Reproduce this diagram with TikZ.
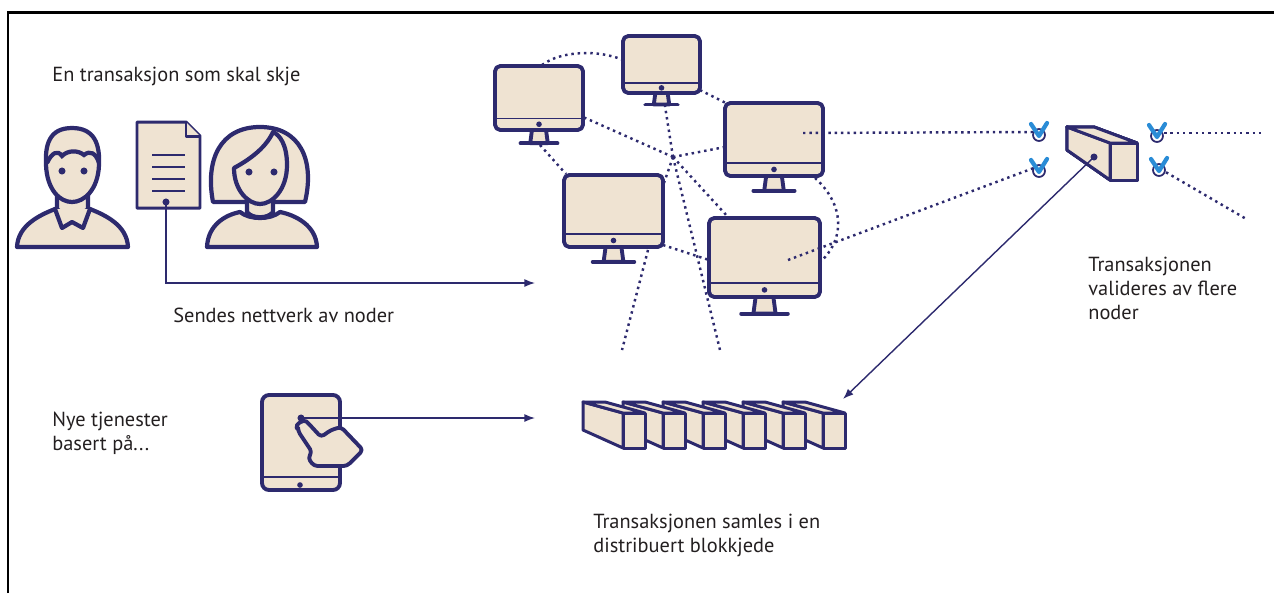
\documentclass[tikz,border=0pt]{standalone}
\usepackage{fontspec}
\setmainfont{PT Sans}
\usetikzlibrary{arrows.meta}
\definecolor{ink}{RGB}{45,42,110}
\definecolor{sand}{RGB}{239,227,210}
\definecolor{tickblue}{RGB}{42,140,214}
\definecolor{txt}{RGB}{35,31,32}
\tikzset{
  icon/.style={draw=ink,fill=sand,line width=2.2pt,line join=round},
  person/.style={icon,line width=2.4pt},
  net/.style={draw=ink,line width=1.4pt,dash pattern=on 1.4pt off 2.2pt},
  link/.style={draw=ink,line width=0.8pt,-{Latex[length=6pt,width=4.5pt]}},
  lbl/.style={anchor=north west,text=txt,font=\fontsize{11.6}{13.6}\selectfont,align=left,inner sep=0pt},
}
% screen with stand: name, left, top, right, bottom
\newcommand{\monitor}[5]{%
  \pgfmathsetmacro\mw{#4-#2}\pgfmathsetmacro\mh{#5-#3}%
  \pgfmathsetmacro\mx{(#2+#4)/2}\pgfmathsetmacro\chin{#5-0.18*\mh}%
  \pgfmathsetmacro\foot{#5+0.15*\mw}%
  \draw[icon] (\mx-0.08*\mw,#5) -- (\mx-0.1*\mw,\foot) -- (\mx+0.1*\mw,\foot) -- (\mx+0.08*\mw,#5) -- cycle;
  \draw[ink,line width=2.2pt,line cap=round] (\mx-0.21*\mw,\foot) -- (\mx+0.21*\mw,\foot);
  \draw[icon,rounded corners=3pt] (#2,#3) rectangle (#4,#5);
  \draw[ink,line width=1pt] (#2,\chin) -- (#4,\chin);
  \fill[ink] (\mx,{(\chin+#5)/2}) circle (1.6pt);
  \coordinate (#1) at (\mx,{(#3+\chin)/2});
}
% block: end face corner x,y, width, height, depth dx,dy, back height
\newcommand{\blok}[7]{%
  \draw[icon,line width=1.7pt] (#1-#5,#2-#6) -- (#1,#2) -- (#1,#2+#4) -- (#1-#5,#2-#6+#7) -- cycle;
  \draw[icon,line width=1.7pt] (#1-#5,#2-#6) -- (#1-#5+#3,#2-#6) -- (#1+#3,#2) -- (#1,#2) -- cycle;
  \draw[icon,line width=1.7pt] (#1,#2) rectangle (#1+#3,#2+#4);
}
% check mark over a small ring, at a named coordinate
\newcommand{\valid}[1]{%
  \draw[ink,line width=1pt] ([shift={(0,3)}]#1) circle (3.4pt);
  \draw[tickblue,line width=2.4pt,line cap=round,line join=round]
    ([shift={(-8,-8)}]#1) -- ([shift={(0,4)}]#1) -- ([shift={(8,-9)}]#1);
}
\begin{document}
\begin{tikzpicture}[x=0.02cm,y=-0.02cm]
\useasboundingbox (0,0) rectangle (1274,593);
\draw[line width=1.7pt] (8,593) -- (8,12) -- (1274,12);

% sender
\draw[person] (17,247) .. controls (18,225) and (40,215) .. (55,209) -- (90,209) .. controls (105,215) and (127,225) .. (128,247) -- cycle;
\draw[person] (57,188) -- (57,209) -- (72,222) -- (88,209) -- (88,188);
\draw[person] (55,209) -- (62,228) -- (72,222) -- (83,228) -- (90,209);
\draw[person] (72,128) .. controls (49,128) and (45,145) .. (46,165) .. controls (47,190) and (60,202) .. (72,202) .. controls (84,202) and (98,190) .. (99,165) .. controls (100,145) and (95,128) .. (72,128) -- cycle;
\draw[ink,line width=2.4pt] (47,163) .. controls (52,152) and (58,150) .. (62,156) .. controls (68,150) and (78,150) .. (84,155) .. controls (90,150) and (96,153) .. (99,163);
\fill[ink] (62,171) circle (2pt) (84,171) circle (2pt);

% document
\draw[icon,line width=1.7pt] (137,122) -- (186,122) -- (200,136) -- (200,208) -- (137,208) -- cycle;
\draw[icon,line width=1.7pt] (186,122) -- (186,136) -- (200,136);
\foreach \y in {155,167,179,191}
  \draw[ink,line width=1.1pt] (152,\y) -- (185,\y);
\coordinate (docpin) at (166,202);
\fill[ink] (docpin) circle (2pt);

% receiver
\draw[person] (207,247) .. controls (208,225) and (225,215) .. (240,212) .. controls (250,220) and (270,220) .. (280,212) .. controls (295,215) and (316,225) .. (317,247) -- cycle;
\draw[person] (213,202) .. controls (205,160) and (220,127) .. (260,127) .. controls (300,127) and (315,160) .. (305,202) -- cycle;
\draw[person] (247,195) -- (247,212) .. controls (252,219) and (268,219) .. (273,212) -- (273,195);
\draw[person] (234,168) .. controls (234,190) and (248,204) .. (260,204) .. controls (272,204) and (287,190) .. (287,165) .. controls (287,145) and (280,135) .. (273,132) .. controls (265,150) and (245,162) .. (234,168) -- cycle;
\fill[ink] (249,172) circle (2pt) (274,172) circle (2pt);

% peer network
\monitor{m1}{495}{66}{583}{130}
\monitor{m2}{623}{36}{700}{93}
\monitor{m3}{725}{103}{823}{176}
\monitor{m4}{564}{175}{663}{247}
\monitor{m5}{709}{218}{820}{297}
\coordinate (hub) at (673,157);
\coordinate (m1top) at (542,65);  \coordinate (m2left) at (623,60);
\coordinate (m2br) at (700,90);   \coordinate (m3tl) at (726,103);
\coordinate (m1right) at (583,117); \coordinate (m3left) at (725,147);
\coordinate (m2foot) at (665,106); \coordinate (m4tr) at (664,183);
\coordinate (m5top) at (728,217);  \coordinate (downa) at (720,350);
\coordinate (m1foot) at (540,145); \coordinate (m4tl) at (566,174);
\coordinate (m4right) at (663,245); \coordinate (m5left) at (709,260);
\coordinate (m4foot) at (648,250); \coordinate (downb) at (622,350);
\coordinate (m3foot) at (815,178); \coordinate (m5right) at (820,262);
\coordinate (m3in) at (803,133);   \coordinate (m5in) at (788,260);
\coordinate (outa) at (1262,133);  \coordinate (outb) at (1248,220);
\draw[net] (m1top) .. controls (562,50) and (600,50) .. (m2left);
\draw[net] (m2br) -- (m3tl);
\foreach \p in {m1right,m3left,m2foot,m4tr,m5top,downa}
  \draw[net] (hub) -- (\p);
\draw[net] (m1foot) -- (m4tl);
\draw[net] (m4right) -- (m5left);
\draw[net] (m4foot) -- (downb);
\draw[net] (m3foot) .. controls (845,205) and (845,240) .. (m5right);

% validation
\coordinate (ca) at (1039,132);
\coordinate (cb) at (1039,168);
\coordinate (cc) at (1157,133);
\coordinate (cd) at (1159,167);
\draw[net] (m3in) -- ([xshift=-3pt]ca);
\draw[net] (m5in) -- ([xshift=-3pt]cb);
\draw[net] ([xshift=4pt]cc) -- (outa);
\draw[net] ([xshift=4pt,yshift=-3pt]cd) -- (outb);
\foreach \c in {ca,cb,cc,cd}
  \valid{\c}
\blok{1110}{143}{27}{37}{43}{16}{23}
\coordinate (blkpin) at (1094,157);
\fill[ink] (blkpin) circle (2pt);

% chain
\foreach \k in {5,4,...,0}
  \blok{623+40*\k}{413}{22}{35}{40}{11}{28}
\coordinate (chainto) at (843,399);
\draw[link] (blkpin) -- (chainto);

% tablet
\draw[icon,rounded corners=4pt] (262,395) rectangle (340,490);
\draw[ink,line width=1pt] (262,477) -- (340,477);
\fill[ink] (300,485) circle (1.6pt);
\coordinate (tabpin) at (301,418);
\draw[icon,rounded corners=2pt] (298,431) -- (312,452) -- (308,458) -- (314,466) -- (347,466) -- (363,450) -- (341,427) -- (331,430) -- (321,437) -- (309,424) .. controls (304,419) and (295,424) .. (298,431) -- cycle;
\fill[ink] (tabpin) circle (2pt);
\coordinate (tabto) at (535,418);
\draw[link] (tabpin) -- (tabto);

\coordinate (sendto) at (535,283);
\draw[link] (docpin) |- (sendto);

% labels
\node[lbl] (intro) at (52,67) {En transaksjon som skal skje};
\node[lbl] (sendlbl) at (173,308) {Sendes nettverk av noder};
\node[lbl] (servlbl) at (52,412) {Nye tjenester\\basert på...};
\node[lbl] (validlbl) at (1088,257) {Transaksjonen\\valideres av flere\\noder};
\node[lbl] (chainlbl) at (593,514) {Transaksjonen samles i en\\distribuert blokkjede};
\end{tikzpicture}
\end{document}
